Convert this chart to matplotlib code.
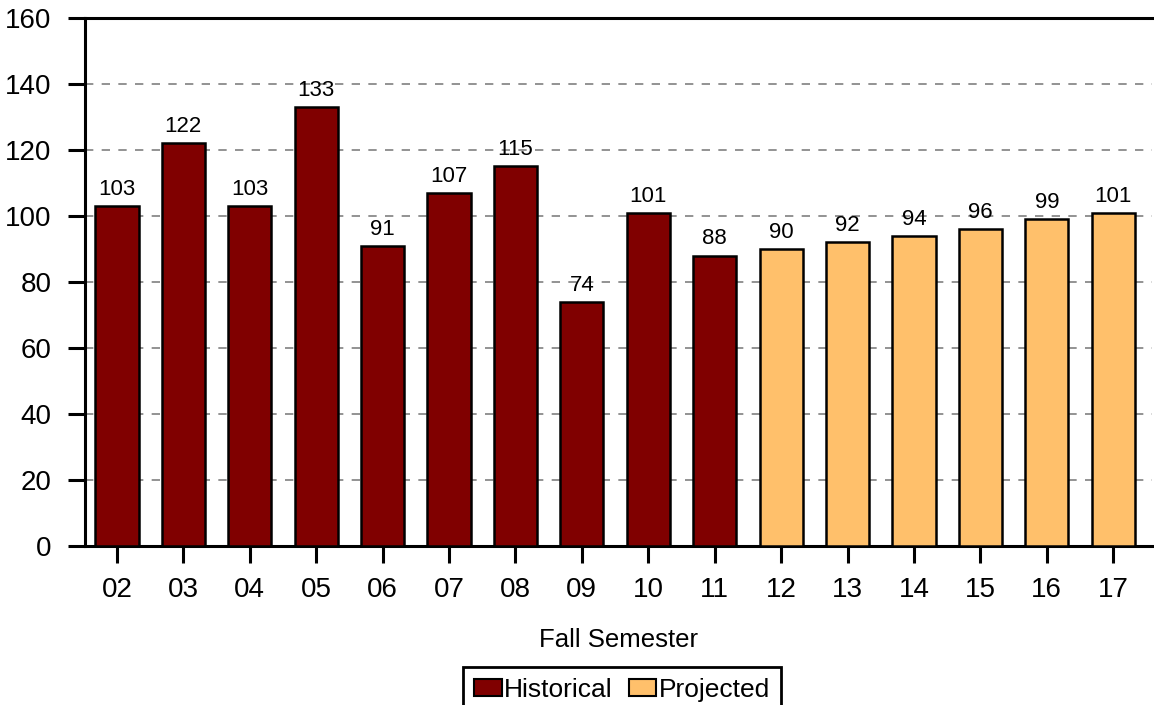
import matplotlib
matplotlib.use("Agg")
import matplotlib.pyplot as plt
from matplotlib.patches import Patch

years = ["02", "03", "04", "05", "06", "07", "08", "09",
         "10", "11", "12", "13", "14", "15", "16", "17"]
values = [103, 122, 103, 133, 91, 107, 115, 74, 101, 88,
          90, 92, 94, 96, 99, 101]
n_hist = 10  # 02..11 historical, rest projected

HIST = "#800000"
PROJ = "#FFC06B"

plt.rcParams["font.family"] = ["Liberation Sans", "DejaVu Sans"]

fig = plt.figure(figsize=(11.54, 7.05), dpi=100)
ax = fig.add_axes([0.0737, 0.2255, 0.9243, 0.749])

x = list(range(len(years)))
colors = [HIST if i < n_hist else PROJ for i in x]
ax.bar(x, values, width=0.65, color=colors, edgecolor="black",
       linewidth=1.8, zorder=3)

for xi, v in zip(x, values):
    ax.annotate(str(v), (xi, v), xytext=(0, 8), textcoords="offset points",
                ha="center", va="baseline", fontsize=16)

ax.set_xlim(-0.48, 15.58)
ax.set_ylim(0, 160)
ax.set_yticks(range(0, 161, 20))
ax.set_xticks(x)
ax.set_xticklabels(years)

for y in range(20, 160, 20):
    ax.axhline(y, color="#808080", linewidth=1.2, linestyle=(0, (5, 5)),
               zorder=1)

ax.spines["right"].set_visible(False)
for s in ["left", "top", "bottom"]:
    ax.spines[s].set_linewidth(2.2)

ax.tick_params(axis="y", length=12, width=2.2, labelsize=20, pad=12)
ax.tick_params(axis="x", length=12, width=2.2, labelsize=20, pad=10)

ax.set_xlabel("Fall Semester", fontsize=18.5, labelpad=18)

handles = [Patch(facecolor=HIST, edgecolor="black", linewidth=1.5),
           Patch(facecolor=PROJ, edgecolor="black", linewidth=1.5)]
leg = fig.legend(handles, ["Historical", "Projected"], loc="upper center",
                 bbox_to_anchor=(622 / 1154, 1 - 667 / 705), ncol=2,
                 fontsize=19, frameon=True, fancybox=False, framealpha=1,
                 handlelength=1.05, handleheight=0.6, handletextpad=0.1,
                 columnspacing=0.6, borderpad=0.4, borderaxespad=0)
leg.get_frame().set_edgecolor("black")
leg.get_frame().set_linewidth(2)

fig.savefig("out.png", dpi=100)
